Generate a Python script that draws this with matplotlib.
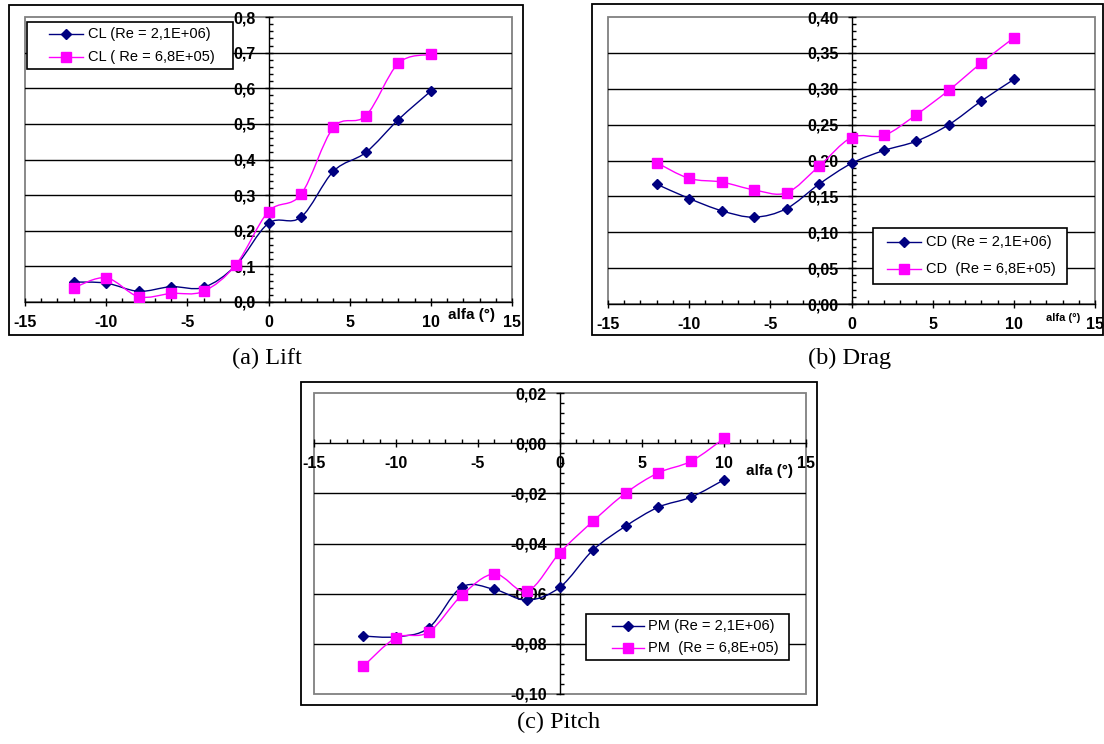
import matplotlib
matplotlib.use('Agg')
import matplotlib.pyplot as plt
import numpy as np
from matplotlib.patches import Rectangle, PathPatch
from matplotlib.path import Path
from matplotlib.ticker import MultipleLocator, FuncFormatter

plt.rcParams['font.family'] = ['Liberation Sans', 'DejaVu Sans']
plt.rcParams['font.weight'] = 'bold'
plt.rcParams['axes.unicode_minus'] = False

# angle of attack, deg
alpha = [-12, -10, -8, -6, -4, -2, 0, 2, 4, 6, 8, 10]

# lift coefficient
cl_hi = [0.056, 0.053, 0.030, 0.043, 0.041, 0.103, 0.221, 0.238, 0.367, 0.420, 0.512, 0.592]
cl_lo = [0.040, 0.068, 0.015, 0.024, 0.030, 0.105, 0.254, 0.302, 0.490, 0.523, 0.670, 0.695]

# drag coefficient
cd_hi = [0.167, 0.147, 0.130, 0.121, 0.133, 0.167, 0.196, 0.214, 0.227, 0.250, 0.283, 0.313]
cd_lo = [0.197, 0.175, 0.170, 0.159, 0.155, 0.192, 0.232, 0.235, 0.264, 0.298, 0.336, 0.371]

# pitching moment
pm_hi = [-0.0769, -0.0772, -0.0736, -0.0574, -0.0583, -0.0626, -0.0574, -0.0427, -0.0331, -0.0255, -0.0215, -0.0146]
pm_lo = [-0.0890, -0.0776, -0.0753, -0.0607, -0.0521, -0.0590, -0.0436, -0.0312, -0.0199, -0.0118, -0.0072, 0.0019]

labels_cl = ['CL (Re = 2,1E+06)', 'CL ( Re = 6,8E+05)']
labels_cd = ['CD (Re = 2,1E+06)', 'CD  (Re = 6,8E+05)']
labels_pm = ['PM (Re = 2,1E+06)', 'PM  (Re = 6,8E+05)']

HI = dict(color='#000080', marker='D', ms=5.5)
LO = dict(color='#FF00FF', marker='s', ms=7)

W, H = 1104, 744
fig = plt.figure(figsize=(W / 100, H / 100), dpi=100)


def px_axes(x0, y0, x1, y1):
    return fig.add_axes([x0 / W, 1 - y1 / H, (x1 - x0) / W, (y1 - y0) / H])


def smooth_path(x, y):
    # cubic bezier through the points (catmull-rom tangents)
    pts = np.column_stack([x, y]).astype(float)
    n = len(pts)
    verts, codes = [pts[0]], [Path.MOVETO]
    for i in range(n - 1):
        p0, p1 = pts[max(i - 1, 0)], pts[i]
        p2, p3 = pts[i + 1], pts[min(i + 2, n - 1)]
        verts += [p1 + (p2 - p0) / 6, p2 - (p3 - p1) / 6, p2]
        codes += [Path.CURVE4] * 3
    return Path(verts, codes)


def series(ax, y, style):
    ax.add_patch(PathPatch(smooth_path(alpha, y), fill=False,
                           edgecolor=style['color'], lw=1.0, zorder=3))
    ax.plot(alpha, y, ls='none', marker=style['marker'], ms=style['ms'],
            color=style['color'], zorder=4)


def setup(ax, ylo, yhi, step, minor, decimals):
    ax.set_xlim(-15, 15)
    ax.set_ylim(ylo, yhi)
    for side in ['top', 'right']:
        ax.spines[side].set_visible(False)
    for side in ['left', 'bottom']:
        ax.spines[side].set_position(('data', 0))
        ax.spines[side].set_linewidth(1.0)
        ax.spines[side].set_zorder(2.5)
    ax.add_patch(Rectangle((0, 0), 1, 1, transform=ax.transAxes, fill=False,
                           edgecolor='#808080', lw=1.3, clip_on=False, zorder=0.5))
    for v in np.arange(ylo, yhi + step / 2, step):
        if ylo + 1e-9 < v < yhi - 1e-9 and abs(v) > 1e-9:
            ax.axhline(v, color='black', lw=1.0, zorder=0.6)

    ax.xaxis.set_major_locator(MultipleLocator(5))
    ax.xaxis.set_minor_locator(MultipleLocator(1))
    ax.yaxis.set_major_locator(MultipleLocator(step))
    ax.yaxis.set_minor_locator(MultipleLocator(minor))

    def fmt(v, pos):
        if abs(v) < 1e-9:
            v = 0.0
        return f'{v:.{decimals}f}'.replace('.', ',')

    ax.yaxis.set_major_formatter(FuncFormatter(fmt))
    ax.tick_params(which='major', direction='inout', length=6, width=1.0,
                   labelsize=11.5, pad=6.5)
    ax.tick_params(which='minor', direction='in', length=3, width=1.0)


ax1 = px_axes(25, 17, 512, 302)
setup(ax1, 0, 0.8, 0.1, 0.02, 1)
series(ax1, cl_hi, HI)
series(ax1, cl_lo, LO)

ax2 = px_axes(608, 17, 1095, 304)
setup(ax2, 0, 0.4, 0.05, 0.01, 2)
series(ax2, cd_hi, HI)
series(ax2, cd_lo, LO)

ax3 = px_axes(314, 393, 806, 694)
setup(ax3, -0.10, 0.02, 0.02, 0.004, 2)
series(ax3, pm_hi, HI)
series(ax3, pm_lo, LO)

# page layer: frames, legends, captions
ov = fig.add_axes([0, 0, 1, 1], zorder=10)
ov.set_xlim(0, W)
ov.set_ylim(H, 0)
ov.axis('off')
ov.patch.set_alpha(0)

for x0, y0, x1, y1 in [(9, 5, 523, 335), (592, 4, 1103, 335), (301, 382, 817, 705)]:
    ov.add_patch(Rectangle((x0, y0), x1 - x0, y1 - y0, fill=False, ec='black', lw=1.3))


def legend_box(box, lx, tx, rows, labels):
    x0, y0, x1, y1 = box
    ov.add_patch(Rectangle((x0, y0), x1 - x0, y1 - y0, fc='white', ec='black', lw=1.2))
    for y, label, style in zip(rows, labels, [HI, LO]):
        ov.plot(lx, [y, y], color=style['color'], lw=1.0)
        ov.plot([(lx[0] + lx[1]) / 2], [y], ls='none', marker=style['marker'],
                ms=style['ms'], color=style['color'])
        ov.text(tx, y, label, fontsize=10.5, fontweight='normal', ha='left', va='center')


legend_box((27, 22, 233, 69), (49, 83), 88, (34, 57), labels_cl)
legend_box((873, 228, 1067, 284), (887, 921), 926, (242, 269), labels_cd)
legend_box((586, 614, 789, 660), (612, 644), 648, (626, 648), labels_pm)

ov.text(471, 315, 'alfa (°)', fontsize=11, ha='center', va='center')
ov.text(1063, 318, 'alfa (°)', fontsize=8, ha='center', va='center')
ov.text(770, 471, 'alfa (°)', fontsize=11, ha='center', va='center')

for x, y, text in [(267, 358, '(a) Lift'), (850, 358, '(b) Drag'), (559, 722, '(c) Pitch')]:
    ov.text(x, y, text, family='Liberation Serif', fontweight='normal',
            fontsize=17.5, ha='center', va='center')

fig.savefig('out.png', dpi=100)
